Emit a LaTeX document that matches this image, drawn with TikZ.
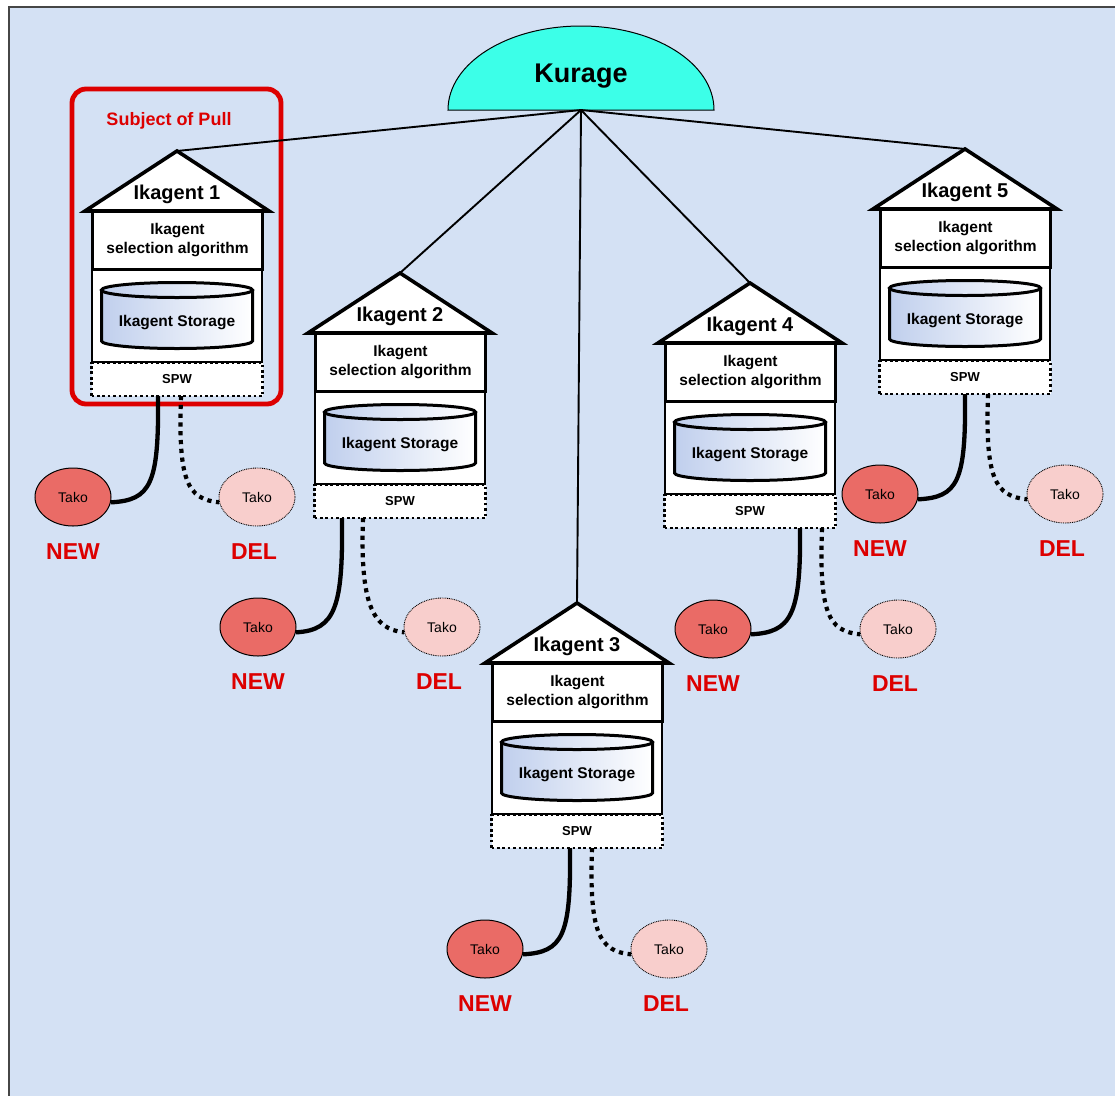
\documentclass[tikz,border=0pt]{standalone}
\usepackage{fontspec}
\setmainfont{Liberation Sans}
\usetikzlibrary{shapes.geometric}

\definecolor{bgblue}{RGB}{212,225,244}
\definecolor{framegray}{RGB}{70,70,70}
\definecolor{kuragecyan}{RGB}{60,255,232}
\definecolor{pullred}{RGB}{221,0,0}
\definecolor{newred}{RGB}{234,107,102}
\definecolor{delpink}{RGB}{248,206,204}
\definecolor{cylblue}{RGB}{192,207,237}

\tikzset{
  hubline/.style={line width=1.9pt},
  roof/.style={draw, fill=white, line width=3.6pt, line join=miter},
  agenttitle/.style={inner sep=0pt, font=\fontsize{20}{24}\selectfont\bfseries},
  selbox/.style={draw, fill=white, line width=3pt, minimum width=170pt,
    minimum height=58pt, inner sep=0pt, align=center,
    font=\fontsize{15.5}{19}\selectfont\bfseries},
  storebox/.style={draw, fill=white, line width=2pt, minimum width=170pt,
    minimum height=93pt, inner sep=0pt},
  cyl/.style={draw, line width=3pt, left color=cylblue, right color=white},
  storetext/.style={inner sep=0pt, font=\fontsize{15.5}{19}\selectfont\bfseries},
  spwbox/.style={draw, fill=white, line width=2.7pt, dash pattern=on 2.7pt off 2.7pt,
    minimum width=171pt, minimum height=33pt, inner sep=0pt,
    font=\fontsize{13}{15}\selectfont\bfseries},
  takonew/.style={ellipse, draw, line width=1pt, fill=newred, minimum width=76pt,
    minimum height=58pt, inner sep=0pt, font=\fontsize{14}{16}\selectfont},
  takodel/.style={ellipse, draw, line width=0.9pt, dash pattern=on 0.9pt off 0.9pt,
    fill=delpink, minimum width=76pt, minimum height=58pt, inner sep=0pt,
    font=\fontsize{14}{16}\selectfont},
  tag/.style={inner sep=0pt, text=pullred, font=\fontsize{23}{27}\selectfont\bfseries},
  newlink/.style={line width=4.3pt},
  dellink/.style={line width=4.2pt, dash pattern=on 4.2pt off 4.6pt},
}

% One agent house: name, apex x, apex y, number
\newcommand\agenthouse[4]{%
  \begin{scope}[shift={(#2,#3)}]
    \coordinate (#1-top) at (0,0);
    \node[storebox] (#1-store) at (0,164.5) {};
    \node[selbox] (#1-sel) at (0.5,89) {Ikagent\\selection algorithm};
    \draw[roof] (-92,60) -- (0,0) -- (92,60) -- cycle;
    \node[agenttitle] (#1-title) at (0,43) {Ikagent #4};
    % storage cylinder
    \path[cyl] (-75.5,139) -- (-75.5,190)
      .. controls (-75.5,194.14) and (-41.7,197.5) .. (0,197.5)
      .. controls (41.7,197.5) and (75.5,194.14) .. (75.5,190)
      -- (75.5,139);
    \path[cyl] (0,139) ellipse [x radius=75.5, y radius=7.5];
    \node[storetext] (#1-storage) at (0,172) {Ikagent Storage};
    \node[spwbox] (#1-spw) at (0,228.5) {SPW};
  \end{scope}}

% A NEW/DEL pair of Tako nodes: name, NEW x, DEL x, y
\newcommand\takopair[4]{%
  \node[takonew] (#1-new) at (#2,#4) {Tako};
  \node[takodel] (#1-del) at (#3,#4) {Tako};
  \node[tag] (#1-newtag) at (#2,#4+55) {NEW};
  \node[tag] (#1-deltag) at (#3-3,#4+55) {DEL};}

\begin{document}
\begin{tikzpicture}[x=1pt,y=-1pt]
  \useasboundingbox (0,0) rectangle (1115,1095);
  \fill[bgblue] (9,7) rectangle (1120,1100);
  \draw[framegray, line width=1.4pt] (9,1100) -- (9,7) -- (1120,7);

  % Kurage dome
  \draw[fill=kuragecyan, line width=1pt]
    (448,110) .. controls (448,63) and (507.5,26) .. (581,26)
    .. controls (654.5,26) and (714,63) .. (714,110) -- cycle;
  \node[inner sep=0pt, font=\fontsize{27}{30}\selectfont\bfseries] (kurage) at (581,76) {Kurage};
  \coordinate (hub) at (581,110);

  % frame around the pulled agent
  \node[draw=pullred, line width=4.8pt, rounded corners=14pt, minimum width=209pt,
        minimum height=315pt, inner sep=0pt] (pullframe) at (176.5,246.5) {};
  \node[inner sep=0pt, text=pullred, font=\fontsize{18}{21}\selectfont\bfseries]
    (pulltitle) at (169,121) {Subject of Pull};

  % agents
  \agenthouse{h1}{177}{151}{1}
  \agenthouse{h2}{400}{273}{2}
  \agenthouse{h3}{577}{603}{3}
  \agenthouse{h4}{750}{283}{4}
  \agenthouse{h5}{965}{149}{5}

  % links from Kurage to each agent
  \foreach \h in {h1,h2,h3,h4,h5}
    \draw[hubline] (hub) -- (\h-top);

  % Tako nodes
  \takopair{t1}{73}{257}{497}
  \takopair{t2}{258}{442}{627}
  \takopair{t3}{485}{669}{949}
  \takopair{t4}{713}{898}{629}
  \takopair{t5}{880}{1065}{494}

  % SPW link points
  \coordinate (h1-s) at (158,396);  \coordinate (h1-d) at (181,396);
  \coordinate (h2-s) at (342,518);  \coordinate (h2-d) at (363,518);
  \coordinate (h3-s) at (570,848);  \coordinate (h3-d) at (592,848);
  \coordinate (h4-s) at (800,528);  \coordinate (h4-d) at (822,528);
  \coordinate (h5-s) at (965,394);  \coordinate (h5-d) at (988,394);

  \foreach \h/\t in {h1/t1,h2/t2,h3/t3,h4/t4,h5/t5}{
    \draw[newlink] (\h-s) .. controls +(1,88) and +(40,-2) .. (\t-new.-8);
    \draw[dellink] (\h-d) .. controls +(-3,85) and +(-32,-3) .. (\t-del.188);
  }
\end{tikzpicture}
\end{document}
